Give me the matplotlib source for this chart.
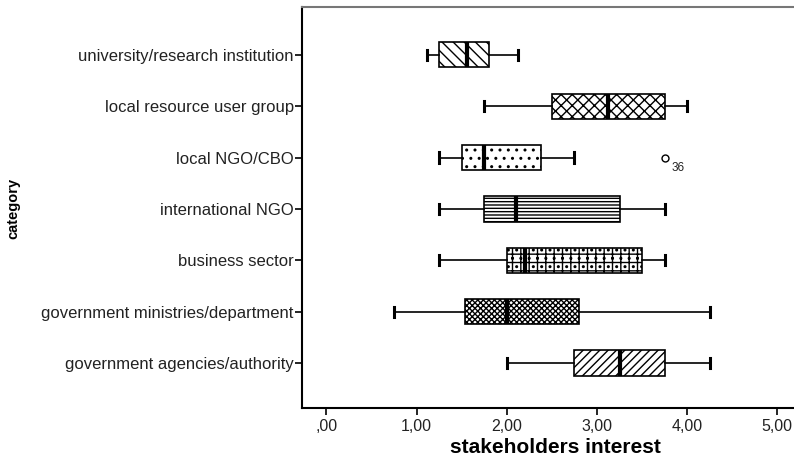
import matplotlib
matplotlib.use("Agg")
import matplotlib.pyplot as plt
from matplotlib import font_manager

categories = ["government agencies/authority", "government ministries/department",
              "business sector", "international NGO", "local NGO/CBO",
              "local resource user group", "university/research institution"]
whislo = [2.00, 0.75, 1.25, 1.25, 1.25, 1.75, 1.12]
q1     = [2.75, 1.54, 2.00, 1.75, 1.50, 2.50, 1.25]
med    = [3.25, 2.00, 2.20, 2.10, 1.75, 3.12, 1.56]
q3     = [3.75, 2.80, 3.50, 3.25, 2.38, 3.75, 1.80]
whishi = [4.25, 4.25, 3.75, 3.75, 2.75, 4.00, 2.12]
fliers = [[], [], [], [], [3.75], [], []]
outlier_label = "36"
xticks = [0, 1, 2, 3, 4, 5]
xticklabels = [",00", "1,00", "2,00", "3,00", "4,00", "5,00"]
hatches = ["////", "xxxxxx", "+..+", "-----", "..", "xxx", "\\\\\\"]

names = {f.name for f in font_manager.fontManager.ttflist}
narrow = "Liberation Sans Narrow" if "Liberation Sans Narrow" in names else "Liberation Sans"
plt.rcParams["font.family"] = ["Liberation Sans", "DejaVu Sans"]
plt.rcParams["hatch.linewidth"] = 1.0

fig = plt.figure(figsize=(7.94, 4.59), dpi=100)
W, H = 794, 459
left_px, top_px, bottom_px = 302, 7, 408
x0, x1 = -0.27, 5.35
ppu = 90.2
ax = fig.add_axes([left_px / W, 1 - bottom_px / H, (x1 - x0) * ppu / W, (bottom_px - top_px) / H])

stats = []
for i in range(len(categories)):
    stats.append(dict(whislo=whislo[i], q1=q1[i], med=med[i], q3=q3[i],
                      whishi=whishi[i], fliers=fliers[i], label=categories[i]))
pos = list(range(len(categories)))
bp = ax.bxp(stats, positions=pos, vert=False, widths=0.49, patch_artist=True,
            showfliers=True,
            boxprops=dict(facecolor="white", edgecolor="black", linewidth=1.2),
            medianprops=dict(color="black", linewidth=3.0),
            whiskerprops=dict(color="black", linewidth=1.2),
            capprops=dict(color="black", linewidth=2.2),
            capwidths=0.2,
            flierprops=dict(marker="o", markerfacecolor="white", markeredgecolor="black",
                            markersize=5, markeredgewidth=1.0))
for patch, h in zip(bp["boxes"], hatches):
    patch.set_hatch(h)

for i, f in enumerate(fliers):
    for v in f:
        ax.annotate(outlier_label, (v, pos[i]), xytext=(5, -10), textcoords="offset points",
                    fontsize=8.5, color="#222222")

ax.set_xlim(x0, x1)
ax.set_ylim(-0.875, 6.93)
ax.set_yticks(pos)
ax.set_yticklabels(categories, fontsize=12, color="#222222")
ax.set_xticks(xticks)
ax.set_xticklabels(xticklabels, fontsize=11.5, color="#222222")
ax.tick_params(axis="both", direction="out", length=5, width=1.2)
ax.tick_params(axis="y", pad=1)
ax.tick_params(axis="x", pad=3)
ax.spines["right"].set_visible(False)
ax.spines["top"].set_color("#777777")
ax.spines["top"].set_linewidth(1.5)
ax.spines["left"].set_linewidth(1.5)
ax.spines["bottom"].set_linewidth(1.5)
ax.set_xlabel("stakeholders interest", fontsize=15, fontweight="bold", labelpad=3)
fig.text(13 / W, 1 - 208 / H, "category", rotation=90, fontsize=10.5, fontweight="bold",
         family=narrow, va="center", ha="center")

fig.savefig("out.png", dpi=100)
